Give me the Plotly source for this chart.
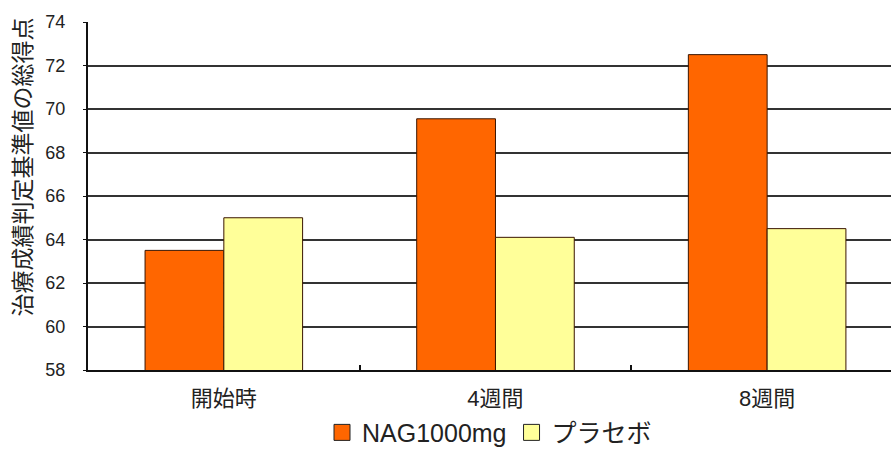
import plotly.graph_objects as go

# Scores by assessment time point
categories = ["開始時", "4週間", "8週間"]
nag_values = [63.5, 69.55, 72.5]
placebo_values = [65.0, 64.1, 64.5]
series_names = ["NAG1000mg", "プラセボ"]
series_colors = ["#FF6600", "#FFFF99"]
y_ticks = [58, 60, 62, 64, 66, 68, 70, 72, 74]
y_title = "治療成績判定基準値の総得点"

FONT = "Liberation Sans, Noto Sans CJK JP, sans-serif"
BORDER = "#3a1500"

fig = go.Figure()
for name, values, color in zip(series_names, [nag_values, placebo_values], series_colors):
    fig.add_trace(go.Bar(
        x=categories, y=values, name=name, showlegend=False, legendgroup=name,
        marker=dict(color=color, line=dict(color=BORDER, width=1)),
    ))

# Larger square swatches for the legend
for name, color in zip(series_names, series_colors):
    fig.add_trace(go.Scatter(
        x=[None], y=[None], mode="markers", name=name, legendgroup=name,
        marker=dict(symbol="square", size=16, color=color, line=dict(color="#222", width=1)),
    ))

fig.update_layout(
    width=891, height=461,
    margin=dict(l=88, r=0, t=22, b=91),
    paper_bgcolor="white", plot_bgcolor="white",
    barmode="group", bargap=0.42, bargroupgap=0,
    font=dict(family=FONT, size=18, color="#222"),
    showlegend=True,
    legend=dict(
        orientation="h", x=0.5, xanchor="center", y=-0.18, yanchor="middle",
        font=dict(size=25, family=FONT, color="#222"),
        itemwidth=30, itemsizing="trace", traceorder="normal",
        tracegroupgap=0,
    ),
)

# Vertical axis title, sitting slightly above the plot's middle
fig.add_annotation(
    text=y_title, textangle=-90,
    xref="paper", yref="paper", x=-0.081, y=0.585,
    xanchor="center", yanchor="middle", showarrow=False,
    font=dict(size=23, family=FONT, color="#222"),
)

fig.update_xaxes(
    type="category",
    range=[-0.5, 2.456],
    showline=True, linecolor="#111", linewidth=2,
    showgrid=False,
    ticks="inside", tickson="boundaries", ticklen=5, tickcolor="#111", tickwidth=1.5,
    tickfont=dict(size=22, family=FONT, color="#222"),
    ticklabelstandoff=8,
)
fig.update_yaxes(
    range=[58, 74],
    tickvals=y_ticks,
    showline=True, linecolor="#111", linewidth=2,
    showgrid=True, gridcolor="#333", gridwidth=1.5,
    ticks="outside", ticklen=3, tickcolor="#111",
    tickfont=dict(size=18, family=FONT, color="#222"),
    ticklabelstandoff=14,
    zeroline=False,
)

fig.write_html("out.html")
